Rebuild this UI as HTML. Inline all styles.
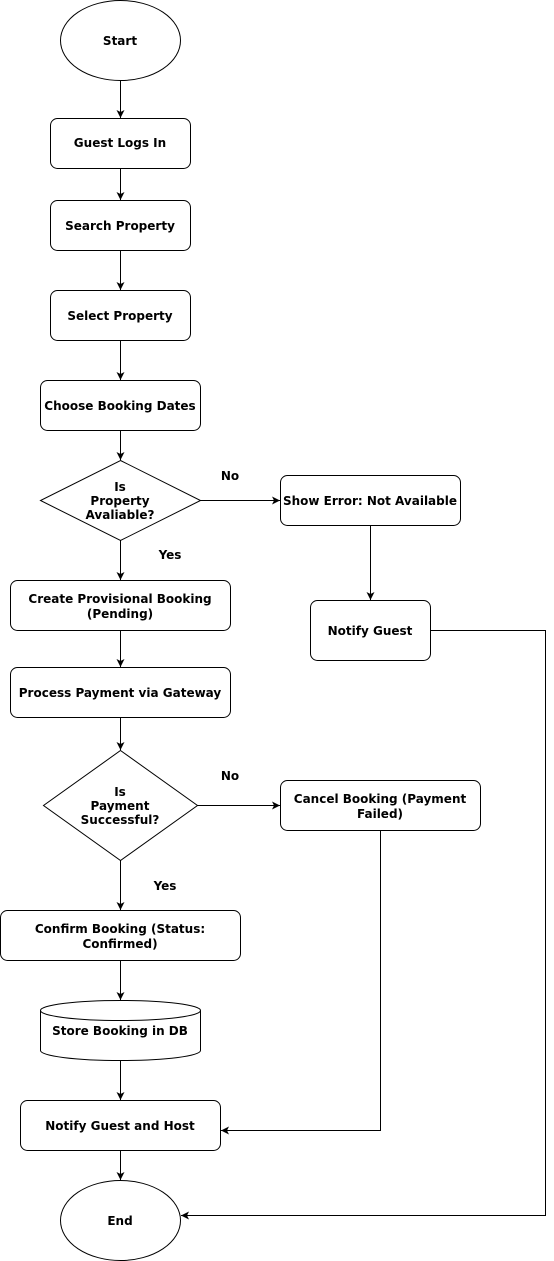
<!DOCTYPE html>
<html><head><meta charset="utf-8"><style>
html,body{margin:0;padding:0;background:#fff;}
svg{display:block;}
text{font-family:"DejaVu Sans","Liberation Sans",sans-serif;font-size:12px;font-weight:bold;fill:#000;text-anchor:middle;}
</style></head><body>
<svg width="554" height="1261" viewBox="0 0 554 1261" xmlns="http://www.w3.org/2000/svg">
<defs><marker id="a" markerWidth="10" markerHeight="10" refX="9" refY="5" orient="auto" markerUnits="userSpaceOnUse"><path d="M1,1 L9,5 L1,9 L3,5 Z" fill="#000"/></marker></defs>
<g fill="#fff" stroke="#000" stroke-width="1">
<ellipse cx="120.5" cy="40.5" rx="60" ry="40"/>
<rect x="50.5" y="118.5" width="140" height="50" rx="7"/>
<rect x="50.5" y="200.5" width="140" height="50" rx="7"/>
<rect x="50.5" y="290.5" width="140" height="50" rx="7"/>
<rect x="40.5" y="380.5" width="160" height="50" rx="7"/>
<path d="M120.5,460.5 L200.5,500.5 L120.5,540.5 L40.5,500.5 Z"/>
<rect x="280.5" y="475.5" width="180" height="50" rx="7"/>
<rect x="310.5" y="600.5" width="120" height="60" rx="7"/>
<rect x="10.5" y="580.5" width="220" height="50" rx="7"/>
<rect x="10.5" y="667.5" width="220" height="50" rx="7"/>
<path d="M120.5,750.5 L197.5,805.5 L120.5,860.5 L43.5,805.5 Z"/>
<rect x="280.5" y="780.5" width="200" height="50" rx="7"/>
<rect x="0.5" y="910.5" width="240" height="50" rx="7"/>
<path d="M40.5,1010.5 L40.5,1050.5 A80,10 0 0 0 200.5,1050.5 L200.5,1010.5 A80,10 0 0 0 40.5,1010.5 Z"/>
<path d="M40.5,1010.5 A80,10 0 0 0 200.5,1010.5" fill="none"/>
<rect x="20.5" y="1100.5" width="200" height="50" rx="7"/>
<ellipse cx="120.5" cy="1220.5" rx="60" ry="40"/>
</g>
<g stroke="#000" fill="none" marker-end="url(#a)">
<path d="M120.5,80.5 V118"/>
<path d="M120.5,168.5 V200"/>
<path d="M120.5,250.5 V290"/>
<path d="M120.5,340.5 V380"/>
<path d="M120.5,430.5 V460"/>
<path d="M200.5,500.5 H280"/>
<path d="M370.5,525.5 V600"/>
<path d="M430.5,630.5 H545.5 V1215.5 H181"/>
<path d="M120.5,540.5 V580"/>
<path d="M120.5,630.5 V667"/>
<path d="M120.5,717.5 V750"/>
<path d="M197.5,805.5 H280"/>
<path d="M120.5,860.5 V910"/>
<path d="M120.5,960.5 V1000"/>
<path d="M120.5,1060.5 V1100"/>
<path d="M380.5,830.5 V1130.5 H221"/>
<path d="M120.5,1150.5 V1180"/>
</g>
<text x="120" y="45">Start</text>
<text x="120" y="147">Guest Logs In</text>
<text x="120" y="230">Search Property</text>
<text x="120" y="320">Select Property</text>
<text x="120" y="410">Choose Booking Dates</text>
<text x="120" y="491">Is</text>
<text x="120" y="505">Property</text>
<text x="120" y="519">Avaliable?</text>
<text x="230" y="480">No</text>
<text x="370" y="505">Show Error: Not Available</text>
<text x="370" y="635">Notify Guest</text>
<text x="170" y="559">Yes</text>
<text x="120" y="603">Create Provisional Booking</text>
<text x="120" y="618">(Pending)</text>
<text x="120" y="697">Process Payment via Gateway</text>
<text x="120" y="796">Is</text>
<text x="120" y="810">Payment</text>
<text x="120" y="824">Successful?</text>
<text x="230" y="780">No</text>
<text x="380" y="803">Cancel Booking (Payment</text>
<text x="380" y="818">Failed)</text>
<text x="165" y="890">Yes</text>
<text x="120" y="933">Confirm Booking (Status:</text>
<text x="120" y="948">Confirmed)</text>
<text x="120" y="1035">Store Booking in DB</text>
<text x="120" y="1130">Notify Guest and Host</text>
<text x="120" y="1225">End</text>
</svg>
</body></html>
